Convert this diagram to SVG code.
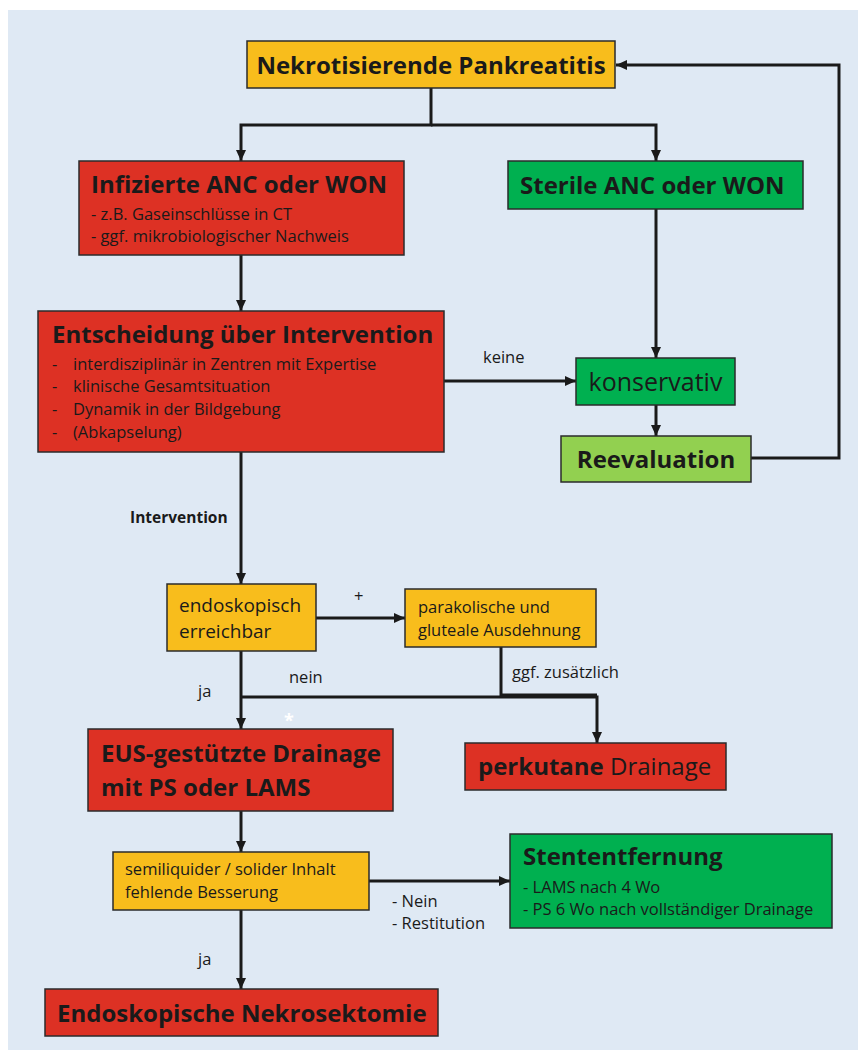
<svg xmlns="http://www.w3.org/2000/svg" width="858" height="1060" viewBox="0 0 858 1060">
<defs>
<marker id="arr" markerUnits="userSpaceOnUse" markerWidth="11" markerHeight="10" refX="11" refY="5" orient="auto">
<path d="M0,0 L11,5 L0,10 z" fill="#1a1a1a"/>
</marker>
<style>
.box{stroke:#2b2b2b;stroke-width:1.5}
.or{fill:#f8bd1c}.rd{fill:#dd3124}.gr{fill:#00b050}.lg{fill:#92d050}
text{font-family:"Open Sans","Liberation Sans",sans-serif;fill:#1a1a1a}
.t{font-weight:bold;font-size:24px}
.s{font-size:16.5px}
.b{font-weight:bold}
.c{fill:none;stroke:#1a1a1a;stroke-width:3}
</style>
</defs>
<rect x="8" y="10" width="850" height="1040" fill="#dfe9f4"/>

<g id="connectors">
<path class="c" d="M431 88 V125 H241 V161" marker-end="url(#arr)"/>
<path class="c" d="M431 125 H656 V161" marker-end="url(#arr)"/>
<path class="c" d="M241 255 V311" marker-end="url(#arr)"/>
<path class="c" d="M656 209 V358" marker-end="url(#arr)"/>
<path class="c" d="M444 381 H576" marker-end="url(#arr)"/>
<path class="c" d="M656 405 V436" marker-end="url(#arr)"/>
<path class="c" d="M751 458 H839 V65 H616" marker-end="url(#arr)"/>
<path class="c" d="M241 452 V584" marker-end="url(#arr)"/>
<path class="c" d="M316 618 H405" marker-end="url(#arr)"/>
<path class="c" d="M241 651 V729" marker-end="url(#arr)"/>
<path class="c" d="M241 697 H597 V743" marker-end="url(#arr)"/>
<path class="c" d="M501 647 V695 H597"/>
<path class="c" d="M241 811 V852" marker-end="url(#arr)"/>
<path class="c" d="M369 881 H510" marker-end="url(#arr)"/>
<path class="c" d="M241 910 V989" marker-end="url(#arr)"/>
<text x="483" y="363" class="s">keine</text>
<text x="130" y="523" font-size="15.5" class="b">Intervention</text>
<text x="354" y="602" class="s">+</text>
<text x="198" y="697" class="s">ja</text>
<text x="289" y="683" class="s">nein</text>
<text x="512" y="678" class="s">ggf. zusätzlich</text>
<text x="392" y="907" class="s">- Nein</text>
<text x="392" y="929" class="s">- Restitution</text>
<text x="198" y="965" class="s">ja</text>
<text x="284" y="727" font-size="18" font-weight="bold" style="fill:#ffffff">*</text>
</g>

<g id="n1">
<rect class="box or" x="247" y="41" width="368" height="47"/>
<text x="431" y="74" class="t" text-anchor="middle">Nekrotisierende Pankreatitis</text>
</g>

<g id="n2">
<rect class="box rd" x="79" y="161" width="325" height="94"/>
<text x="91" y="193" class="t">Infizierte ANC oder WON</text>
<text x="91" y="220" class="s">- z.B. Gaseinschlüsse in CT</text>
<text x="91" y="242" class="s">- ggf. mikrobiologischer Nachweis</text>
</g>

<g id="n3">
<rect class="box gr" x="508" y="161" width="295" height="48"/>
<text x="520" y="194" class="t">Sterile ANC oder WON</text>
</g>

<g id="n4">
<rect class="box rd" x="38" y="311" width="406" height="141"/>
<text x="52" y="343" class="t" font-size="23.6">Entscheidung über Intervention</text>
<text x="52" y="370" class="s">-</text><text x="73" y="370" class="s">interdisziplinär in Zentren mit Expertise</text>
<text x="52" y="392" class="s">-</text><text x="73" y="392" class="s">klinische Gesamtsituation</text>
<text x="52" y="415" class="s">-</text><text x="73" y="415" class="s">Dynamik in der Bildgebung</text>
<text x="52" y="438" class="s">-</text><text x="73" y="438" class="s">(Abkapselung)</text>
</g>

<g id="n5">
<rect class="box gr" x="576" y="358" width="159" height="47"/>
<text x="655.5" y="391" font-size="25" text-anchor="middle">konservativ</text>
</g>

<g id="n6">
<rect class="box lg" x="561" y="436" width="190" height="46"/>
<text x="656" y="468" class="t" text-anchor="middle">Reevaluation</text>
</g>

<g id="n7">
<rect class="box or" x="167" y="584" width="149" height="67"/>
<text x="179" y="612" font-size="19">endoskopisch</text>
<text x="179" y="638" font-size="19">erreichbar</text>
</g>

<g id="n8">
<rect class="box or" x="405" y="589" width="191" height="58"/>
<text x="418" y="613" class="s">parakolische und</text>
<text x="418" y="636" class="s">gluteale Ausdehnung</text>
</g>

<g id="n9">
<rect class="box rd" x="88" y="729" width="305" height="82"/>
<text x="101" y="762" class="t">EUS-gestützte Drainage</text>
<text x="101" y="796" class="t">mit PS oder LAMS</text>
</g>

<g id="n10">
<rect class="box rd" x="465" y="743" width="261" height="47"/>
<text x="478" y="775" font-size="24"><tspan font-weight="bold">perkutane</tspan> Drainage</text>
</g>

<g id="n11">
<rect class="box or" x="113" y="852" width="256" height="58"/>
<text x="125" y="875" class="s">semiliquider / solider Inhalt</text>
<text x="125" y="898" class="s">fehlende Besserung</text>
</g>

<g id="n12">
<rect class="box gr" x="510" y="834" width="322" height="94"/>
<text x="523" y="865" class="t">Stententfernung</text>
<text x="523" y="893" class="s">- LAMS nach 4 Wo</text>
<text x="523" y="915" class="s">- PS 6 Wo nach vollständiger Drainage</text>
</g>

<g id="n13">
<rect class="box rd" x="45" y="989" width="393" height="47"/>
<text x="57" y="1022" class="t">Endoskopische Nekrosektomie</text>
</g>
</svg>
